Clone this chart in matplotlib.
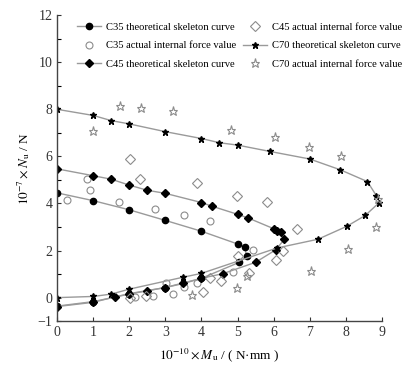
import numpy as np
import matplotlib
matplotlib.use("Agg")
import matplotlib.pyplot as plt

plt.rcParams["font.family"] = ["Liberation Serif", "DejaVu Serif"]
plt.rcParams["mathtext.fontset"] = "stix"

# ── data (x: 1e-10*Mu, y: 1e-7*Nu) ─────────────────────────────────────────
c35_theo_x = [0, 1, 2, 3, 4, 5.0, 5.2, 5.25, 5.05, 4.0, 3.0, 2.0, 1.0, 0]
c35_theo_y = [4.45, 4.12, 3.73, 3.28, 2.82, 2.28, 2.13, 1.78, 1.5, 0.82, 0.43, 0.15, -0.17, -0.36]

c45_theo_x = [0, 1, 1.5, 2, 2.5, 3, 4, 4.3, 5.0, 5.3, 6.0, 6.1, 6.2, 6.3,
              6.06, 5.5, 4.6, 4.0, 3.5, 3.0, 2.5, 2.0, 1.6, 1.0, 0]
c45_theo_y = [5.47, 5.18, 5.03, 4.78, 4.56, 4.43, 4.04, 3.88, 3.54, 3.38, 2.93, 2.84, 2.77, 2.48,
              2.03, 1.5, 1.02, 0.82, 0.6, 0.43, 0.3, 0.17, 0.03, -0.2, -0.38]

c70_theo_x = [0, 1, 1.5, 2, 3, 4, 4.5, 5, 5.9, 7.0, 7.85, 8.6, 8.85, 8.93,
              8.54, 8.03, 7.23, 6.1, 4.0, 3.5, 2.0, 1.5, 1.0, 0]
c70_theo_y = [8.0, 7.74, 7.52, 7.38, 7.05, 6.76, 6.58, 6.48, 6.21, 5.89, 5.43, 4.93, 4.33, 4.04,
              3.49, 3.03, 2.48, 2.11, 1.03, 0.87, 0.36, 0.15, 0.05, 0.0]

c35_act_x = [0.27, 0.83, 0.92, 1.72, 2.72, 3.52, 4.23, 5.42, 2.16, 2.65, 3.03, 3.2, 3.53, 3.88, 4.87]
c35_act_y = [4.13, 5.03, 4.58, 4.05, 3.76, 3.53, 3.24, 2.04, 0.03, 0.06, 0.61, 0.15, 0.47, 0.61, 1.1]

c45_act_x = [2.03, 2.29, 3.89, 4.98, 5.83, 6.64, 6.08, 6.27, 5.33, 5.01, 4.53, 4.04, 4.23, 2.46, 2.03]
c45_act_y = [5.89, 5.03, 4.86, 4.33, 4.08, 2.93, 1.61, 2.0, 1.03, 1.75, 0.71, 0.26, 0.85, 0.06, 0.0]

c70_act_x = [1.73, 2.33, 3.22, 0.99, 4.83, 6.03, 6.98, 7.88, 8.85, 8.9, 8.05, 7.03, 4.99, 3.74, 5.27]
c70_act_y = [8.14, 8.05, 7.94, 7.07, 7.14, 6.83, 6.38, 6.03, 3.0, 4.2, 2.07, 1.14, 0.4, 0.11, 0.92]

line_c = "#9a9a9a"
act_c = "#8c8c8c"

fig = plt.figure(figsize=(4.11, 3.70), dpi=100)
ax = fig.add_axes([0.139, 0.132, 0.790, 0.827])

ax.plot(c35_theo_x, c35_theo_y, "-", color=line_c, lw=1.0, marker="o", ms=4.5,
        mfc="black", mec="black", label="C35 theoretical skeleton curve")
ax.plot(c35_act_x, c35_act_y, "o", ms=5, mfc="none", mec=act_c, mew=0.8,
        label="C35 actual internal force value")
ax.plot(c45_theo_x, c45_theo_y, "-", color=line_c, lw=1.0, marker="D", ms=4.5,
        mfc="black", mec="black", label="C45 theoretical skeleton curve")
ax.plot(c45_act_x, c45_act_y, "D", ms=5, mfc="none", mec=act_c, mew=0.8,
        label="C45 actual internal force value")
ax.plot(c70_theo_x, c70_theo_y, "-", color=line_c, lw=1.0, marker="*", ms=5,
        mfc="black", mec="black", label="C70 theoretical skeleton curve")
ax.plot(c70_act_x, c70_act_y, "*", ms=6.5, mfc="none", mec=act_c, mew=0.8,
        label="C70 actual internal force value")

ax.set_xlim(0, 9)
ax.set_ylim(-1, 12)
ax.set_xticks(range(0, 10))
ax.set_yticks([-1, 0, 2, 4, 6, 8, 10, 12])
ax.set_yticks([1, 3, 5, 7, 9, 11], minor=True)
ax.tick_params(direction="in", labelsize=10, length=3, width=0.8, colors="#333333")
ax.tick_params(which="minor", direction="in", length=3, width=0.8)
for s in ["top", "right"]:
    ax.spines[s].set_visible(False)
for s in ["left", "bottom"]:
    ax.spines[s].set_linewidth(1.0)
    ax.spines[s].set_color("#444444")

ax.set_xlabel(r"$10^{-10}\times M_{\rm u}$ / ( N·mm )", fontsize=9.5, labelpad=5)
ax.set_ylabel(r"$10^{-7}\times N_{\rm u}$ / N", fontsize=9.5, labelpad=4)

handles, labels = ax.get_legend_handles_labels()
fig.legend(handles, labels,
           loc="upper left", bbox_to_anchor=(0.178, 0.95), ncol=2, frameon=False,
           fontsize=7.6, handlelength=2.2, handletextpad=0.5, columnspacing=0.7,
           labelspacing=0.85, borderaxespad=0)

fig.savefig("out.png", dpi=100)
